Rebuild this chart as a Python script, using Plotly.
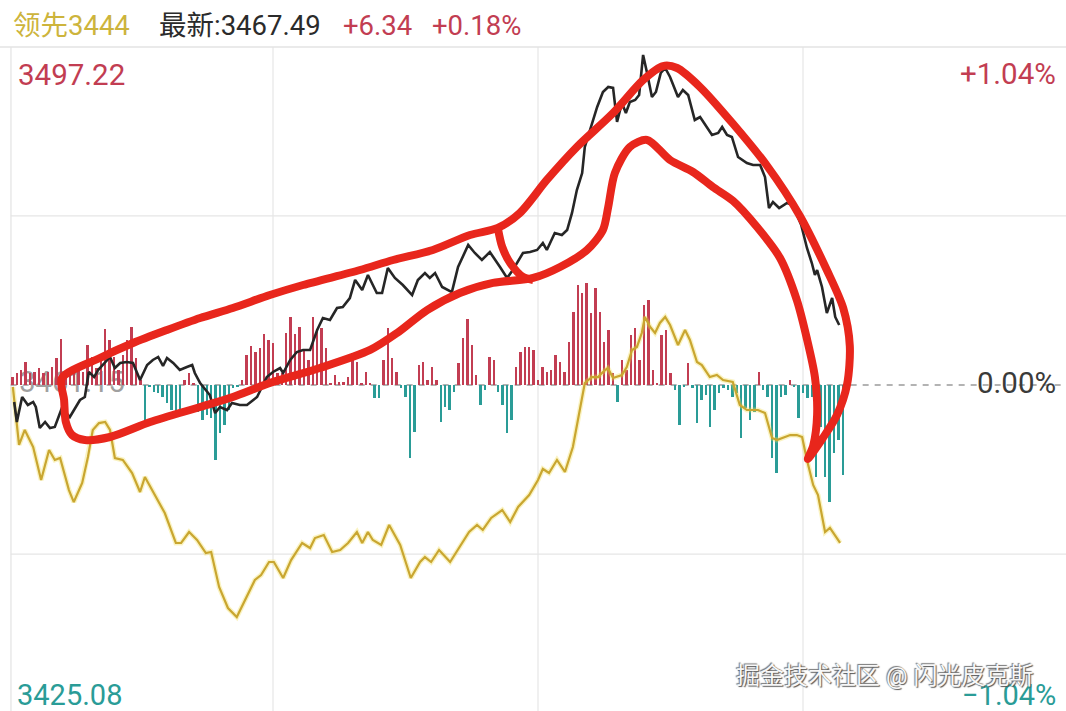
import plotly.graph_objects as go

# ---------------- data ----------------
prev_close = 3461.15
axis_high = 3497.22
axis_low = 3425.08
last_price = 3467.49
change = "+6.34"
change_pct = "+0.18%"
lead_value = 3444

# price line (minute index, price)
price_min = [1.4, 2.0, 3.2, 4.5, 5.7, 6.3, 7.2, 8.4, 9.5, 10.6, 12.2, 14.0, 16.3, 17.4, 18.3, 19.5, 20.4,
             21.5, 23.1, 24.2, 25.4, 26.9, 28.3, 29.9, 31.5, 32.8, 34.0, 35.1, 36.0, 37.4, 38.9, 40.5,
             41.7, 42.3, 43.5, 45.7, 46.9, 48.0, 49.6, 50.7, 52.5, 54.1, 56.4, 58.6, 60.0, 61.6, 62.3,
             63.9, 65.4, 66.8, 68.4, 70.0, 71.3, 72.9, 74.5, 75.8, 77.4, 78.6, 80.2, 81.5, 82.4, 83.5,
             84.7, 86.0, 87.6, 89.4, 91.5, 92.8, 94.4, 95.5, 96.7, 98.3, 100.5, 101.9, 104.2, 105.7,
             107.3, 109.1, 111.4, 113.0, 114.3, 116.6, 118.2, 119.8, 121.1, 122.0, 123.8, 125.4, 126.6,
             127.7, 128.8, 130.0, 130.6, 131.8, 133.4, 134.7, 135.9, 137.0, 137.9, 139.0, 139.9, 140.8,
             142.0, 142.9, 143.8, 144.7, 145.8, 146.7, 147.8, 148.8, 149.9, 151.7, 152.8, 154.0, 155.5,
             156.7, 158.3, 159.4, 160.8, 161.7, 162.8, 163.9, 165.3, 167.3, 168.7, 170.3, 171.4, 172.3,
             173.2, 174.6, 176.4, 177.7, 179.6, 180.9, 182.0, 182.7, 183.2, 184.3, 185.4, 186.6, 187.3,
             188.2]
price_val = [3459.34, 3457.20, 3459.87, 3459.02, 3459.34, 3458.80, 3456.56, 3457.20, 3456.56, 3456.67,
             3458.70, 3457.73, 3459.55, 3459.87, 3462.54, 3462.00, 3462.75, 3463.28, 3464.14, 3462.96,
             3463.50, 3463.60, 3463.50, 3461.68, 3463.28, 3463.82, 3464.14, 3463.18, 3464.03, 3463.50,
             3462.75, 3463.07, 3463.28, 3462.43, 3461.36, 3460.08, 3458.16, 3458.80, 3458.48, 3459.23,
             3459.02, 3459.02, 3459.87, 3462.00, 3462.54, 3462.96, 3462.43, 3463.82, 3464.67, 3464.89,
             3464.89, 3467.02, 3468.30, 3468.09, 3469.37, 3469.47, 3470.43, 3472.36, 3471.29, 3472.89,
             3472.04, 3470.97, 3470.97, 3473.64, 3472.57, 3471.82, 3470.75, 3472.36, 3473.10, 3472.57,
             3473.10, 3471.61, 3471.07, 3473.74, 3476.09, 3475.24, 3474.49, 3475.34, 3473.74, 3472.57,
             3473.42, 3475.24, 3475.34, 3475.56, 3476.30, 3475.56, 3477.37, 3477.16, 3477.69, 3479.51,
             3481.96, 3483.77, 3486.55, 3488.36, 3490.82, 3492.42, 3492.95, 3492.85, 3489.22, 3491.25,
             3490.18, 3491.35, 3491.57, 3492.10, 3496.37, 3494.45, 3491.89, 3492.42, 3494.45, 3494.98,
             3494.02, 3491.89, 3492.63, 3492.10, 3489.43, 3489.75, 3488.68, 3487.83, 3488.04, 3488.68,
             3487.83, 3487.62, 3485.48, 3484.84, 3484.63, 3484.63, 3483.35, 3480.04, 3480.68, 3480.04,
             3480.57, 3480.36, 3478.23, 3475.77, 3474.17, 3472.89, 3473.42, 3471.61, 3468.83, 3470.43,
             3468.41, 3467.55]

# leading index line (minute index, value)
lead_min = [1.1, 2.5, 3.8, 5.7, 7.5, 9.3, 10.6, 11.8, 13.8, 14.9, 16.8, 18.1, 19.2, 20.6, 22.0, 23.1,
            24.2, 26.0, 28.1, 29.9, 31.0, 33.5, 35.5, 38.0, 39.2, 41.0, 42.8, 44.8, 46.0, 47.8, 49.8,
            51.8, 53.4, 55.9, 57.3, 59.1, 60.2, 62.3, 64.1, 66.6, 68.4, 69.5, 71.5, 73.4, 75.2, 77.0,
            79.0, 80.2, 81.5, 82.6, 84.5, 86.3, 88.8, 91.2, 93.3, 94.4, 95.8, 97.6, 100.1, 101.9, 104.4,
            106.2, 107.5, 109.4, 111.9, 113.7, 115.5, 118.0, 120.0, 121.1, 122.5, 124.3, 126.1, 127.9,
            129.3, 130.6, 132.2, 133.6, 134.7, 135.8, 137.0, 139.0, 140.1, 141.3, 142.4, 143.5, 144.2,
            145.4, 146.5, 147.6, 148.8, 149.9, 151.7, 153.3, 154.4, 156.0, 157.1, 158.9, 160.5, 161.9,
            164.1, 165.7, 167.3, 169.8, 171.4, 173.0, 174.1, 175.5, 177.1, 178.6, 179.8, 180.9, 182.3,
            183.4, 185.0, 186.1, 188.4]
lead_val = [3460.94, 3454.75, 3456.35, 3454.53, 3451.01, 3454.21, 3453.15, 3453.36, 3449.94, 3448.66,
            3450.69, 3453.47, 3456.35, 3457.09, 3457.20, 3456.35, 3453.36, 3453.15, 3451.76, 3449.73,
            3451.33, 3449.20, 3447.49, 3444.29, 3444.29, 3445.46, 3444.61, 3443.22, 3443.33, 3439.59,
            3437.35, 3436.39, 3437.88, 3440.34, 3440.87, 3442.26, 3442.26, 3440.55, 3442.47, 3444.29,
            3443.75, 3444.82, 3445.14, 3443.33, 3443.54, 3444.29, 3445.46, 3444.29, 3445.46, 3444.61,
            3444.08, 3446.21, 3444.08, 3440.55, 3442.26, 3442.79, 3442.26, 3443.54, 3442.26, 3443.54,
            3445.46, 3446.21, 3445.68, 3446.96, 3447.81, 3446.53, 3448.13, 3449.41, 3451.01, 3452.19,
            3451.76, 3453.15, 3451.87, 3454.53, 3458.16, 3461.36, 3462.00, 3462.00, 3462.54, 3462.96,
            3461.90, 3462.22, 3463.07, 3464.89, 3465.21, 3466.70, 3468.41, 3467.34, 3466.70, 3467.77,
            3468.41, 3467.55, 3465.42, 3467.02, 3465.95, 3463.60, 3463.28, 3462.00, 3462.22, 3461.68,
            3461.47, 3459.02, 3458.48, 3458.48, 3458.16, 3455.49, 3455.28, 3455.49, 3455.81, 3455.81,
            3455.60, 3453.15, 3450.48, 3449.41, 3445.46, 3445.89, 3444.29]

# buy/sell strength bars, one per minute from minute 1
bar_value = [8, 12,
             15, 23, 12, 13, 17, 12, 13, 18, 27, 46,
             8, 13, 12, 18, 13, 40, 28, 17, 30, 56,
             45, 28, 15, 30, 45, 58, 27, 5,
             -38, -2, -7, -8, -12, -18, -25, -30, -25, 5, 12, 2,
             -27, -35, -30, -33, -75, -48, -40, -25,
             -3, -2, 5, 30, 39, 33, 37, 51, 45, 42,
             12, 12, 52, 68, 51, 58, 35, 25, 68, 53, 57, 37,
             2, 10, 3, 3, 8, 25, 23, 2, 13, 2,
             -13, -13, 25, 57, 27, 13, -3, -12, -73, -47,
             20, 23, 5, 18, 5, -37, -22, -25, -7,
             22, 47, 66, 40, 10, -20, -5, 28, 25, -7,
             -20, -48, -35, 18, 33, 38, 38, 35, 5, 18, 13,
             15, 30, 23, 13, 43, 73, 100, 92, 102, 72,
             97, 73, 43, 55, 12, -17, 25, 15, 50, 57,
             25, 80, 85, 15, 2, 50, 55, 12, -5, -40,
             -2, 22, -3, -38, -15, -10, -42, -25, -8,
             -3, -5, -12, -8, -53, -23, -35, -27, 13, -5,
             -12, -73, -88, -12, -10, 5, -2, -33, -8, -13,
             -12, -92, -42, -92, -117, -68, -55, -90]
bar_minute = list(range(1, len(bar_value) + 1))

# hand-drawn red marker stroke (minute index, price)
mark_min = [12.2, 12.7, 13.1, 14.5, 17.4, 23.1, 32.2, 43.5, 50.9, 59.3, 70.6, 82.0, 88.1, 94.9, 102.3,
            109.8, 118.9, 125.0, 131.1, 134.7, 135.9, 137.4, 140.8, 144.7, 149.9, 155.1, 159.6, 164.2,
            169.6, 174.8, 178.6, 180.9, 182.7, 183.2, 182.3, 181.1, 184.5, 187.7, 190.0, 190.6, 189.1,
            185.4, 179.3, 171.9, 164.2, 156.7, 151.5, 148.3, 143.8, 137.0, 128.8, 122.0, 115.9, 110.9,
            104.6, 96.2, 87.2, 79.7, 66.8, 59.3, 50.9, 43.5, 36.0, 28.3, 20.8, 12.2]
mark_val = [3461.90, 3459.55, 3457.20, 3455.81, 3455.28, 3455.60, 3457.20, 3458.80, 3459.87, 3461.36,
            3462.96, 3464.89, 3466.70, 3469.15, 3470.97, 3472.04, 3472.57, 3473.74, 3475.56, 3477.69,
            3480.15, 3483.77, 3486.55, 3487.30, 3485.16, 3483.88, 3482.28, 3480.79, 3478.01, 3474.70,
            3470.22, 3466.06, 3462.00, 3457.95, 3454.64, 3453.25, 3455.49, 3457.95, 3461.26, 3465.31,
            3469.37, 3473.42, 3479.19, 3484.52, 3489.00, 3492.95, 3494.98, 3495.19, 3493.70, 3490.18,
            3486.55, 3483.03, 3479.51, 3477.91, 3477.16, 3475.56, 3474.49, 3473.42, 3471.82, 3470.75,
            3469.37, 3468.30, 3467.02, 3465.63, 3464.03, 3461.90]
cross_min = [110.9, 111.9, 113.7, 116.6, 118.9]
cross_val = [3477.91, 3475.88, 3474.17, 3472.68, 3472.36]

grid_minutes = [60, 120, 180]
grid_prices = [3479.19, 3443.11]

# ---------------- styling ----------------
RED = "#c23d52"
TEAL = "#2a9c97"
YELLOW = "#c9a630"
MARKER = "#e8261c"
FONT = "Roboto, 'Noto Sans CJK SC', sans-serif"

W, H = 1066.0, 711.0
TOP = 47.0
X_RANGE = [-1.81, 239.55]
Y_RANGE = [3426.36, axis_high]
BAR_RANGE = [-326, 338]

fig = go.Figure()

# label behind the bars
fig.add_trace(go.Scatter(x=[14.5], y=[prev_close], mode="text", text=[f"{prev_close:.2f}"],
                         textfont=dict(family=FONT, size=29, color="#a0a0a0"),
                         hoverinfo="skip", showlegend=False, xaxis="x", yaxis="y"))

fig.add_trace(go.Bar(x=bar_minute, y=bar_value, width=0.55,
                     marker=dict(color=[RED if v > 0 else TEAL for v in bar_value], line=dict(width=0)),
                     showlegend=False, xaxis="x", yaxis="y2"))

fig.add_trace(go.Scatter(x=lead_min, y=lead_val, mode="lines",
                         line=dict(color="rgba(240,220,80,0.35)", width=5),
                         showlegend=False, hoverinfo="skip", xaxis="x", yaxis="y3"))
fig.add_trace(go.Scatter(x=lead_min, y=lead_val, mode="lines",
                         line=dict(color=YELLOW, width=2.2),
                         showlegend=False, xaxis="x", yaxis="y3"))
fig.add_trace(go.Scatter(x=price_min, y=price_val, mode="lines",
                         line=dict(color="#262626", width=2.6),
                         showlegend=False, xaxis="x", yaxis="y3"))
fig.add_trace(go.Scatter(x=mark_min, y=mark_val, mode="lines",
                         line=dict(color=MARKER, width=8, shape="spline", smoothing=0.8),
                         showlegend=False, hoverinfo="skip", xaxis="x", yaxis="y3"))
fig.add_trace(go.Scatter(x=cross_min, y=cross_val, mode="lines",
                         line=dict(color=MARKER, width=8, shape="spline", smoothing=0.8),
                         showlegend=False, hoverinfo="skip", xaxis="x", yaxis="y3"))

shapes = []
for m in grid_minutes:
    shapes.append(dict(type="line", xref="x", yref="paper", x0=m, x1=m, y0=0, y1=1,
                       line=dict(color="#e6e6e6", width=1.2), layer="below"))
for p in grid_prices:
    shapes.append(dict(type="line", xref="paper", yref="y", x0=0.01, x1=1, y0=p, y1=p,
                       line=dict(color="#e6e6e6", width=1.2), layer="below"))
shapes.append(dict(type="line", xref="paper", yref="paper", x0=0.0103, x1=0.0103, y0=0, y1=1,
                   line=dict(color="#e3e3e3", width=1.2), layer="below"))
shapes.append(dict(type="line", xref="paper", yref="paper", x0=0, x1=1, y0=1, y1=1,
                   line=dict(color="#e3e3e3", width=1.5), layer="below"))
shapes.append(dict(type="line", xref="paper", yref="y", x0=0.01, x1=1, y0=prev_close, y1=prev_close,
                   line=dict(color="#9a9a9a", width=1.5, dash="6px,6px"), layer="below"))


def px(pixel_x):
    return pixel_x / W


def py(pixel_y):
    # paper coords are relative to the plot area (TOP .. H)
    return (H - pixel_y) / (H - TOP)


annotations = []


def txt(x, y, s, color, size, xanchor="left"):
    annotations.append(dict(x=x, y=y, xref="paper", yref="paper", text=s, showarrow=False,
                            xanchor=xanchor, yanchor="middle",
                            font=dict(family=FONT, size=size, color=color)))


# header pieces
txt(px(11), py(25), f"领先{lead_value}", "#cdb43c", 27.5)
txt(px(157), py(25), f"最新:{last_price:.2f}", "#2b2b2b", 27.5)
txt(px(341), py(25), change, RED, 27.5)
txt(px(430), py(25), change_pct, RED, 27.5)

txt(px(16), py(75), f"{axis_high:.2f}", RED, 29.5)
txt(px(1058), py(74), "+1.04%", RED, 29.5, xanchor="right")
txt(px(1058), py(383), "0.00%", "#3a3a3a", 29.5, xanchor="right")
txt(px(15), py(695), f"{axis_low:.2f}", TEAL, 29)
txt(px(1058), py(695), "−1.04%", TEAL, 29, xanchor="right")
annotations.append(dict(x=px(884), y=py(676), xref="paper", yref="paper", showarrow=False,
                        xanchor="center", yanchor="middle", text="掘金技术社区 @ 闪光皮克斯",
                        font=dict(family=FONT, size=24, color="#f7f7f7",
                                  shadow="1px 1px 1px #555, -1px -1px 1px #777")))

fig.update_layout(
    width=1066, height=711,
    margin=dict(l=0, r=0, t=int(TOP), b=0),
    paper_bgcolor="white", plot_bgcolor="white",
    xaxis=dict(range=X_RANGE, showgrid=False, zeroline=False, showticklabels=False, fixedrange=True),
    yaxis=dict(range=Y_RANGE, showgrid=False, zeroline=False, showticklabels=False),
    yaxis2=dict(range=BAR_RANGE, overlaying="y", showgrid=False, zeroline=False, showticklabels=False),
    yaxis3=dict(range=Y_RANGE, overlaying="y", showgrid=False, zeroline=False, showticklabels=False),
    shapes=shapes,
    annotations=annotations,
    bargap=0,
    showlegend=False,
)

fig.write_html("out.html", config={"displayModeBar": False},
               post_script="document.body.style.margin='0';document.body.style.overflow='hidden';")
